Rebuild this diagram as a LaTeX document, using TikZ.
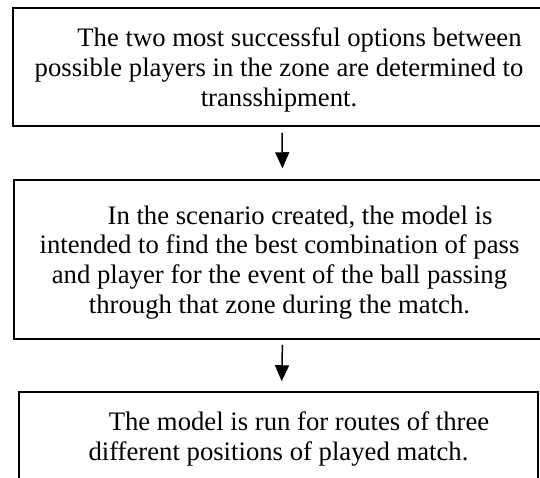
\documentclass[tikz,border=0pt]{standalone}
\usepackage{fontspec}
\setmainfont{Liberation Serif}
\usetikzlibrary{arrows.meta}
\begin{document}
\begin{tikzpicture}[x=1pt, y=-1pt,
    stepbox/.style={draw, line width=1.5pt, align=center, inner sep=0pt, text depth=0pt,
        font=\fontsize{26.7}{29.7}\selectfont},
    flowarrow/.style={line width=1.5pt, -{Triangle[width=14pt,length=16pt]}}]
    \useasboundingbox (0,0) rectangle (540,477);
    \node[stepbox, minimum width=532pt, minimum height=118pt] (zone) at (279,67)
        {\hspace*{41pt}The two most successful options between\\
        possible players in the zone are determined to\\
        transshipment.};
    \node[stepbox, minimum width=531pt, minimum height=159pt] (scenario) at (279.5,259.5)
        {\hspace*{41pt}In the scenario created, the model is\\
        intended to find the best combination of pass\\
        and player for the event of the ball passing\\
        through that zone during the match.};
    \node[stepbox, minimum width=519pt, minimum height=87.5pt] (routes) at (278.5,435.75)
        {\hspace*{41pt}The model is run for routes of three\\
        different positions of played match.};
    \draw[flowarrow, shorten <=6pt, shorten >=11pt] ([xshift=3pt]zone.south) -- ([xshift=3pt]scenario.north);
    \draw[flowarrow, shorten <=5pt, shorten >=10pt] ([xshift=3pt]scenario.south) -- ([xshift=3pt]routes.north);
\end{tikzpicture}
\end{document}
